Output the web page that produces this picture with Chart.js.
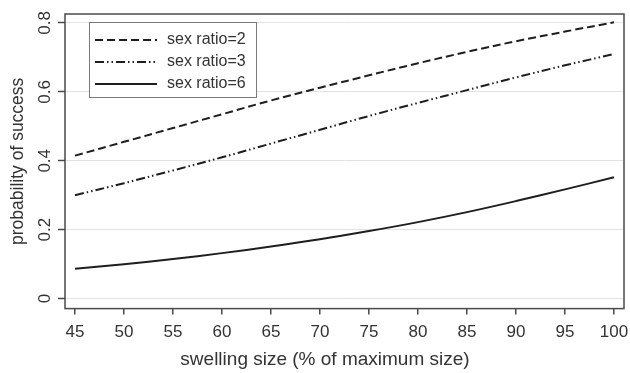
<!DOCTYPE html>
<html>
<head>
<meta charset="utf-8">
<script src="https://cdn.jsdelivr.net/npm/chart.js@4"></script>
<style>
  html, body { margin: 0; padding: 0; background: #fff; }
  #wrap { width: 630px; height: 373px; }
</style>
</head>
<body>
<div id="wrap"><canvas id="probChart" width="630" height="373"></canvas></div>
<script>
// swelling size (% of maximum size)
const swellingSize = [45, 50, 55, 60, 65, 70, 75, 80, 85, 90, 95, 100];
// probability of success
const sexRatio2 = [0.415, 0.455, 0.495, 0.535, 0.575, 0.612, 0.648, 0.683, 0.716, 0.747, 0.775, 0.802];
const sexRatio3 = [0.300, 0.335, 0.372, 0.410, 0.450, 0.490, 0.530, 0.568, 0.605, 0.642, 0.677, 0.710];
const sexRatio6 = [0.087, 0.100, 0.115, 0.132, 0.151, 0.172, 0.196, 0.222, 0.251, 0.283, 0.317, 0.352];
const seriesLabels = ['sex ratio=2', 'sex ratio=3', 'sex ratio=6'];
const xTickValues = [45, 50, 55, 60, 65, 70, 75, 80, 85, 90, 95, 100];
const yTickValues = [0, 0.2, 0.4, 0.6, 0.8];
const xTitle = 'swelling size (% of maximum size)';
const yTitle = 'probability of success';

const lineColor = '#1e1e1e';
const textColor = '#333';
const fontFamily = '"Liberation Sans", Arial, sans-serif';
const dashes = [[8, 4], [9, 3, 1.5, 3, 1.5, 3], []];

function toPoints(vals) {
    return swellingSize.map((x, i) => ({ x: x, y: vals[i] }));
}

// frame around the plot region, y labels rotated (Stata style), x title, legend box
const frameAndLegend = {
    id: 'frameAndLegend',
    afterDraw(chart) {
        const c = chart.ctx;
        const a = chart.chartArea;
        const ys = chart.scales.y;
        c.save();
        c.strokeStyle = '#4a4a4a';
        c.lineWidth = 1.5;
        c.strokeRect(a.left, a.top, a.right - a.left, a.bottom - a.top);

        // rotated y tick labels, centred on their tick
        c.fillStyle = textColor;
        c.font = '17px ' + fontFamily;
        c.textAlign = 'center';
        c.textBaseline = 'middle';
        yTickValues.forEach(v => {
            const py = ys.getPixelForValue(v);
            c.save();
            c.translate(a.left - 20, py);
            c.rotate(-Math.PI / 2);
            c.fillText(v === 0 ? '0' : v.toFixed(1), 0, 0);
            c.restore();
        });

        // x axis title, centred a little left of the plot centre like the original
        c.font = '19px ' + fontFamily;
        c.textBaseline = 'alphabetic';
        c.fillText(xTitle, chart.width / 2 + 10, chart.height - 8);

        const bx = a.left + 24, by = a.top + 8, bw = 167, bh = 75;
        c.fillStyle = '#fff';
        c.fillRect(bx, by, bw, bh);
        c.strokeStyle = '#7a7a7a';
        c.lineWidth = 1;
        c.strokeRect(bx + 0.5, by + 0.5, bw, bh);

        c.font = '16px ' + fontFamily;
        c.textAlign = 'left';
        c.textBaseline = 'middle';
        chart.data.datasets.forEach((ds, i) => {
            const yy = by + 18 + i * 22;
            c.beginPath();
            c.strokeStyle = lineColor;
            c.lineWidth = 2;
            c.setLineDash(ds.borderDash || []);
            c.moveTo(bx + 6, yy);
            c.lineTo(bx + 68, yy);
            c.stroke();
            c.setLineDash([]);
            c.fillStyle = textColor;
            c.fillText(ds.label, bx + 78, yy);
        });
        c.restore();
    }
};

new Chart(document.getElementById('probChart').getContext('2d'), {
    type: 'line',
    data: {
        datasets: [sexRatio2, sexRatio3, sexRatio6].map((vals, i) => ({
            label: seriesLabels[i],
            data: toPoints(vals),
            borderColor: lineColor,
            borderWidth: 2,
            borderDash: dashes[i],
            pointRadius: 0,
            tension: 0.4,
            fill: false
        }))
    },
    options: {
        responsive: false,
        animation: false,
        layout: { padding: { left: 0, right: 6, top: 14, bottom: 22 } },
        plugins: {
            legend: { display: false },
            tooltip: { enabled: false }
        },
        scales: {
            x: {
                type: 'linear',
                min: 43.98,
                max: 101.02,
                afterBuildTicks(axis) {
                    axis.ticks = xTickValues.map(v => ({ value: v }));
                },
                // let the "100" label run into the right margin as in the original
                afterFit(axis) {
                    axis.paddingRight = 0;
                    axis.paddingLeft = 0;
                },
                grid: {
                    drawOnChartArea: false,
                    drawTicks: true,
                    tickLength: 6,
                    color: '#4a4a4a',
                    lineWidth: 1.5
                },
                border: { display: false },
                ticks: {
                    color: textColor,
                    font: { family: fontFamily, size: 17 },
                    padding: 8,
                    maxRotation: 0,
                    autoSkip: false
                },
                title: { display: false }
            },
            y: {
                type: 'linear',
                min: -0.029,
                max: 0.826,
                afterBuildTicks(axis) {
                    axis.ticks = yTickValues.map(v => ({ value: v }));
                },
                grid: {
                    color: '#e2e2e2',
                    lineWidth: 1,
                    drawTicks: true,
                    tickLength: 7,
                    tickColor: '#4a4a4a',
                    tickWidth: 1.5
                },
                border: { display: false },
                // labels are painted by the plugin; keep space for them and the title
                afterFit(axis) {
                    axis.width = 65;
                },
                ticks: {
                    display: false
                },
                title: {
                    display: true,
                    text: yTitle,
                    color: textColor,
                    font: { family: fontFamily, size: 17.5 },
                    padding: { top: 8, bottom: 0 }
                }
            }
        }
    },
    plugins: [frameAndLegend]
});
</script>
</body>
</html>
